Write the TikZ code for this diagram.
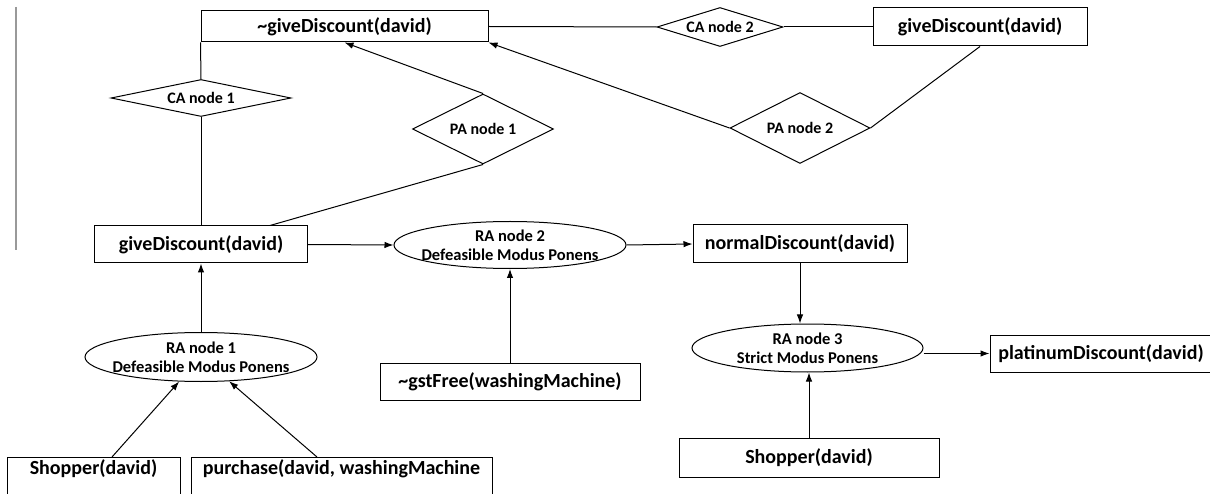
\documentclass[tikz,border=0pt]{standalone}
\usepackage{fontspec}
\setmainfont{Carlito}
\usetikzlibrary{shapes.geometric,arrows.meta}

\tikzset{
  fact/.style={draw, rectangle, inner sep=0pt, font=\bfseries\fontsize{20}{22}\selectfont},
  cutfact/.style={fact, anchor=north, inner ysep=4pt, text height=13pt, text depth=30pt},
  ranode/.style={draw, ellipse, inner xsep=-25pt, inner ysep=0pt, minimum width=232pt,
    minimum height=49pt, align=center, font=\bfseries\fontsize{16.5}{19}\selectfont},
  attack/.style={draw, diamond, inner sep=0pt, font=\bfseries\fontsize{16}{18}\selectfont},
}

\begin{document}
\begin{tikzpicture}[x=1pt, y=-1pt, line width=1pt, >={Latex[length=9pt,width=6.5pt]}]
  \clip (0,0) rectangle (1210,494);
  \draw[gray!80, line width=1.8pt] (16,7) -- (16,250);

  % conflicting claims on top
  \node[fact, minimum width=287pt, minimum height=31pt] (notgd) at (344.5,26.5) {\textasciitilde giveDiscount(david)};
  \node[fact, minimum width=214pt, minimum height=38pt] (gdtop) at (980,27) {giveDiscount(david)};
  \node[attack, aspect=4.86, minimum width=180pt, minimum height=37pt] (ca1) at (201,98) {CA node 1};
  \node[attack, aspect=3.2, minimum width=126pt, minimum height=39pt] (ca2) at (720,27) {CA node 2};
  \node[attack, aspect=2, minimum width=141pt, minimum height=70pt] (pa1) at (483,129) {PA node 1};
  \node[attack, aspect=2, minimum width=140pt, minimum height=71pt] (pa2) at (800,128) {PA node 2};

  % inference chain
  \node[fact, minimum width=213pt, minimum height=37pt] (gd) at (201,244.5) {giveDiscount(david)};
  \node[ranode] (ra1) at (201,357) {RA node 1\\Defeasible Modus Ponens};
  \node[ranode, minimum height=47pt] (ra2) at (510,245) {RA node 2\\Defeasible Modus Ponens};
  \node[fact, minimum width=214pt, minimum height=38pt] (nd) at (800,244) {normalDiscount(david)};
  \node[fact, minimum width=260pt, minimum height=37pt] (gst) at (510,381.5) {\textasciitilde gstFree(washingMachine)};
  \node[ranode, minimum width=231pt, minimum height=48pt] (ra3) at (807.5,348) {RA node 3\\Strict Modus Ponens};
  \node[fact, minimum width=260pt, minimum height=39pt] (shop2) at (809,457.5) {Shopper(david)};
  \node[fact, minimum width=222pt, minimum height=37pt] (plat) at (1101,353.5) {platinumDiscount(david)};
  \node[cutfact, minimum width=173pt] (shop1) at (93.5,457) {Shopper(david)};
  \node[cutfact, minimum width=301pt] (buy) at (341.5,457) {purchase(david, washingMachine};

  \draw (notgd.south west) -- (ca1.north);
  \draw (ca1.south) -- (gd.north);
  \draw ([xshift=69pt]gd.north) -- (pa1.south);
  \draw[->] (pa1.north) -- (notgd.south);
  \draw (notgd.east) -- (ca2.west);
  \draw (ca2.east) -- (gdtop.west);
  \draw (gdtop.south) -- (pa2.east);
  \draw[->] (pa2.west) -- (notgd.south east);

  \draw[->] (gd.east) -- (ra2.west);
  \draw[->] (ra2.east) -- (nd.west);
  \draw[->] (gst.north) -- (ra2.south);
  \draw[->] (ra1.north) -- (gd.south);
  \draw[->] ([xshift=18.5pt]shop1.north) -- (ra1);
  \draw[->] ([xshift=-24.5pt]buy.north) -- (ra1);
  \draw[->] (nd.south) -- (nd.south |- ra3.north);
  \draw[->] (shop2.north) -- (shop2.north |- ra3.south);
  \draw[->] (ra3.east |- plat.west) -- (plat.west);
\end{tikzpicture}
\end{document}
